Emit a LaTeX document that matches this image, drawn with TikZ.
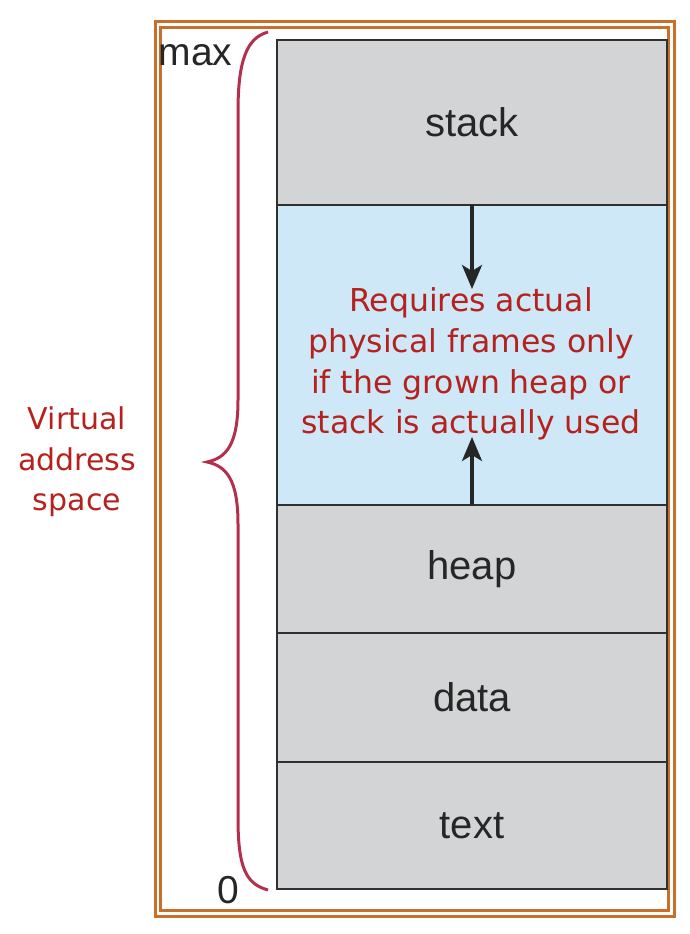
\documentclass[tikz,border=0pt]{standalone}
\usepackage{fontspec}
\setmainfont{Liberation Sans}
\newfontfamily\redfont{DejaVu Sans}
\usetikzlibrary{arrows.meta}
\definecolor{segGray}{HTML}{D3D4D6}
\definecolor{segBlue}{HTML}{CFE8F7}
\definecolor{frameOrange}{HTML}{C8702A}
\definecolor{noteRed}{HTML}{B5221E}
\definecolor{braceRed}{HTML}{B3304C}
\definecolor{edgeDark}{HTML}{303030}
\begin{document}
\begin{tikzpicture}[x=1pt,y=-1pt,
  seg/.style={draw=edgeDark,line width=2pt,fill=segGray,minimum width=390pt,inner sep=0pt,outer sep=0pt,anchor=north west,font=\fontsize{40}{42}\selectfont,text=black!85},
  growseg/.style={draw=edgeDark,line width=2pt,fill=segBlue,minimum width=390pt,inner sep=0pt,outer sep=0pt,anchor=north west},
  note/.style={text=noteRed,font=\redfont\fontsize{31.5}{40.7}\selectfont,align=center},
  vasnote/.style={text=noteRed,font=\redfont\fontsize{30}{40.5}\selectfont,align=center},
  growarrow/.style={draw=black!85,line width=3.5pt,-{Stealth[length=24pt,width=20pt,inset=6pt]}},
  axislabel/.style={font=\fontsize{39}{40}\selectfont,text=black!85}
]
\useasboundingbox (0,0) rectangle (690,934);
% double frame
\draw[frameOrange,line width=3pt] (155,22) rectangle (674,916);
\draw[frameOrange,line width=3pt] (160.5,28) rectangle (668.5,910.5);
% segments
\node[growseg,minimum height=300pt] (gap) at (277,205) {};
\node[seg,minimum height=165pt] (stack) at (277,40) {stack};
\node[seg,minimum height=128pt] (heap) at (277,505) {heap};
\node[seg,minimum height=129pt] (data) at (277,633) {data};
\node[seg,minimum height=127pt] (text) at (277,762) {text};
% arrows
\coordinate (downtip) at (472,289);
\coordinate (uptip) at (472,437);
\draw[growarrow] (stack.south -| downtip) -- (downtip);
\draw[growarrow] (heap.north -| uptip) -- (uptip);
% note
\node[note] (req) at (471,364) {Requires actual\\physical frames only\\if the grown heap or\\stack is actually used};
% brace
\draw[braceRed,line width=3pt] (268,32) .. controls (246,38) and (238,62) .. (238,112) -- (238,400) .. controls (238,445) and (226,458) .. (207,462) .. controls (226,466) and (238,479) .. (238,524) -- (238,818) .. controls (238,868) and (246,884) .. (268,890);
% labels
\node[axislabel,anchor=base east] (maxl) at (236,66) {max};
\node[axislabel,anchor=base] (zerol) at (228,903) {0};
\node[vasnote] (vas) at (77,462) {Virtual\\address\\space};
\end{tikzpicture}
\end{document}
